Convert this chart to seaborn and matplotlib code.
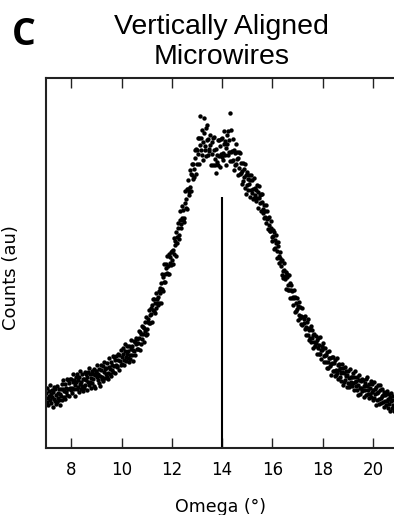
import numpy as np
import pandas as pd
import matplotlib
matplotlib.use('Agg')
import matplotlib.pyplot as plt
import seaborn as sns

# omega scan grid (deg) and counts, one row = 0.5 deg
omega_start = 7.0
omega_step = 0.02
counts_rows = [
    [55, 46, 60, 50, 43, 57, 52, 63, 48, 54, 45, 58, 51, 41, 56, 61, 49, 47, 59, 44, 53, 62, 46, 55, 50],
    [48, 59, 54, 43, 59, 52, 64, 48, 59, 68, 51, 57, 49, 64, 60, 56, 69, 53, 59, 68, 52, 65, 60, 69, 58],
    [69, 60, 55, 66, 74, 59, 68, 63, 52, 71, 66, 59, 74, 68, 61, 56, 71, 77, 64, 59, 66, 74, 62, 69, 57],
    [60, 69, 76, 63, 68, 74, 58, 71, 76, 66, 63, 80, 66, 74, 60, 70, 77, 65, 74, 69, 62, 79, 73, 60, 77],
    [76, 71, 83, 68, 74, 65, 79, 72, 62, 78, 83, 71, 69, 82, 67, 76, 86, 70, 79, 74, 80, 71, 85, 75, 69],
    [81, 90, 74, 79, 72, 86, 83, 78, 92, 76, 82, 91, 75, 88, 83, 92, 81, 82, 94, 88, 78, 93, 87, 98, 83],
    [91, 84, 100, 94, 88, 83, 97, 104, 91, 87, 94, 102, 90, 97, 86, 102, 93, 89, 99, 108, 93, 102, 98, 87, 107],
    [97, 106, 93, 104, 110, 99, 109, 105, 99, 117, 110, 98, 116, 104, 114, 122, 109, 114, 121, 106, 120, 126, 117, 113, 131],
    [119, 114, 129, 126, 138, 125, 133, 125, 140, 134, 126, 143, 149, 138, 137, 149, 135, 145, 155, 140, 149, 145, 151, 143, 157],
    [145, 160, 155, 145, 165, 159, 174, 157, 171, 184, 166, 174, 166, 184, 180, 175, 192, 174, 182, 194, 174, 191, 185, 196, 183],
    [197, 188, 184, 198, 210, 194, 207, 203, 192, 216, 211, 205, 225, 220, 213, 209, 228, 237, 224, 220, 230, 242, 228, 238, 226],
    [230, 245, 257, 240, 249, 259, 239, 259, 268, 256, 253, 278, 261, 274, 257, 273, 284, 269, 284, 279, 271, 298, 290, 274, 299],
    [298, 284, 310, 294, 284, 310, 303, 332, 298, 310, 293, 318, 306, 288, 315, 330, 302, 298, 320, 292, 308, 323, 293, 309, 299],
    [297, 313, 303, 283, 306, 294, 310, 283, 298, 311, 283, 289, 275, 299, 293, 286, 308, 283, 292, 308, 281, 302, 294, 309, 291],
    [310, 295, 288, 304, 317, 293, 307, 300, 283, 313, 304, 293, 317, 308, 296, 287, 335, 318, 296, 287, 297, 309, 288, 298, 278],
    [283, 295, 304, 284, 289, 296, 273, 290, 296, 280, 274, 295, 275, 285, 264, 277, 285, 267, 279, 271, 260, 284, 273, 254, 276],
    [263, 269, 258, 273, 264, 251, 268, 273, 258, 255, 268, 249, 259, 270, 250, 260, 253, 258, 247, 263, 250, 240, 256, 250, 262],
    [253, 245, 254, 237, 246, 254, 235, 239, 230, 243, 237, 231, 243, 225, 229, 237, 219, 230, 223, 231, 217, 217, 227, 220, 207],
    [211, 218, 212, 199, 216, 208, 200, 213, 205, 197, 190, 202, 206, 192, 185, 190, 196, 182, 187, 173, 188, 177, 170, 178, 185],
    [169, 172, 176, 159, 171, 174, 163, 158, 173, 158, 165, 150, 158, 163, 150, 157, 151, 143, 158, 150, 136, 151, 137, 145, 150],
    [139, 128, 142, 146, 133, 130, 141, 124, 132, 140, 123, 131, 125, 129, 119, 132, 121, 113, 126, 120, 129, 113, 118, 108, 120],
    [110, 122, 106, 110, 118, 100, 113, 106, 114, 102, 102, 112, 105, 94, 108, 100, 110, 94, 103, 111, 94, 98, 89, 102, 98],
    [100, 105, 92, 86, 93, 100, 86, 93, 80, 96, 86, 80, 90, 97, 82, 90, 84, 73, 91, 85, 77, 91, 85, 77, 72],
    [88, 78, 73, 90, 75, 83, 69, 78, 84, 71, 80, 75, 67, 84, 76, 63, 80, 66, 75, 81, 68, 72, 77, 61, 73],
    [65, 77, 61, 70, 79, 63, 71, 66, 71, 62, 75, 65, 58, 71, 66, 77, 62, 67, 58, 71, 63, 53, 68, 73, 60],
    [54, 67, 60, 69, 57, 58, 68, 62, 51, 65, 58, 69, 53, 62, 71, 54, 58, 50, 64, 60, 54, 67, 51, 56, 64],
    [48, 58, 66, 50, 59, 54, 43, 61, 55, 48, 63, 56, 49, 44, 58, 63, 50, 45, 52, 59, 46, 53, 41, 56, 47],
    [53, 43, 54, 47, 57, 40, 49, 54, 44, 37, 51, 47, 55, 40, 48, 43, 52, 37],
]
x_ticks = [8, 10, 12, 14, 16, 18, 20]
ref_omega = 14.0    # reference line position
ref_height = 251    # reference line height (au)

counts = np.concatenate([np.array(r, dtype=float) for r in counts_rows])
omega = omega_start + omega_step * np.arange(len(counts))
df = pd.DataFrame({'omega': omega, 'counts': counts})

sns.set_style('ticks')
plt.rcParams['font.family'] = ['DejaVu Sans']
plt.rcParams['text.color'] = 'black'
plt.rcParams['axes.labelcolor'] = 'black'

fig = plt.figure(figsize=(3.94, 5.15), dpi=100)
ax = fig.add_axes([0.117, 0.130, 0.883, 0.7184])

sns.scatterplot(data=df, x='omega', y='counts', ax=ax, color='black',
                s=10, linewidth=0, legend=False)
ax.vlines(ref_omega, 0, ref_height, color='black', linewidth=1.5)

ax.set_xlim(7.0, 20.84)
ax.set_ylim(0, 370)
ax.set_xticks(x_ticks)
ax.set_yticks([])
ax.tick_params(axis='x', direction='in', top=True, bottom=True, length=7.2,
               width=1, color='#222222', labelcolor='black', labelsize=12, pad=9)
ax.spines['right'].set_visible(False)
for side in ['left', 'top', 'bottom']:
    ax.spines[side].set_linewidth(1.5)
    ax.spines[side].set_color('#222222')

ax.set_xlabel('Omega (°)', fontsize=12.5, labelpad=14)
ax.set_ylabel('Counts (au)', fontsize=13)
ax.yaxis.set_label_coords(-0.076, 0.46)
fig.text(0.563, 0.973, 'Vertically Aligned\nMicrowires', fontsize=20.5,
         family='Liberation Sans', ha='center', va='top', linespacing=1.2)
fig.text(0.03, 0.969, 'C', fontsize=27, family='Open Sans', weight='bold',
         ha='left', va='top')

fig.savefig('out.png', dpi=100)
